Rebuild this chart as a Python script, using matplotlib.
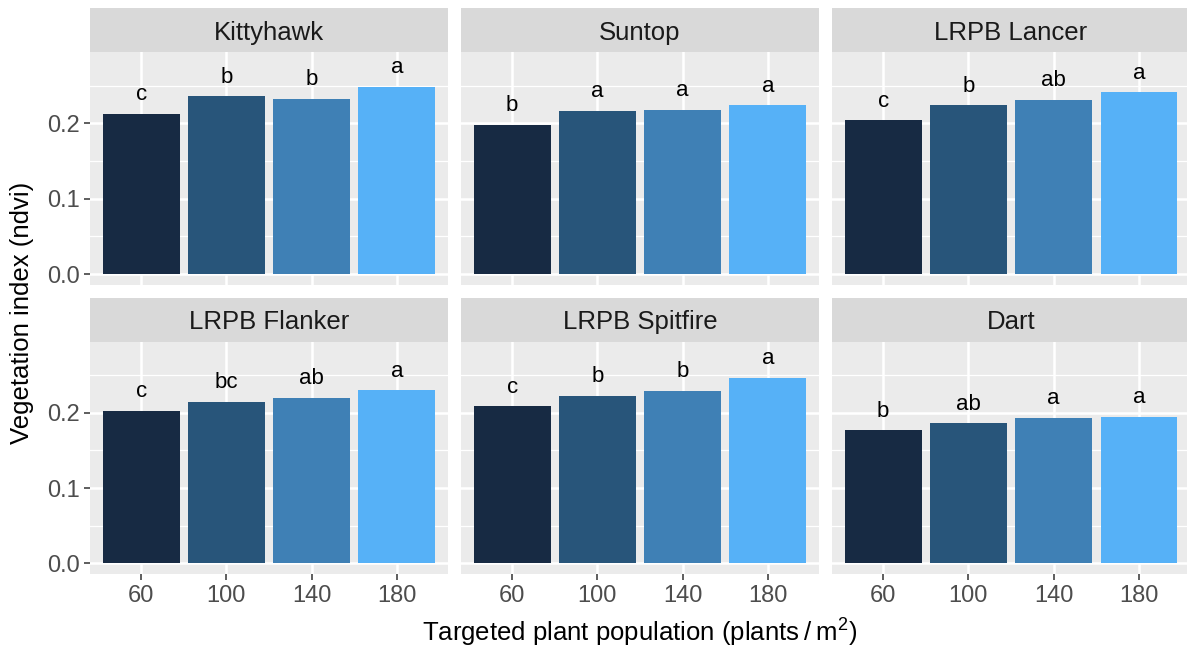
import matplotlib.pyplot as plt
import numpy as np

plt.rcParams['font.family'] = ['Liberation Sans', 'DejaVu Sans']
plt.rcParams['mathtext.fontset'] = 'custom'
plt.rcParams['mathtext.rm'] = 'Liberation Sans'
plt.rcParams['mathtext.it'] = 'Liberation Sans'

# data
cultivars = ["Kittyhawk", "Suntop", "LRPB Lancer",
             "LRPB Flanker", "LRPB Spitfire", "Dart"]
populations = ["60", "100", "140", "180"]

ndvi_kittyhawk = [0.2125, 0.236, 0.2325, 0.2487]
ndvi_suntop = [0.198, 0.2165, 0.2182, 0.2244]
ndvi_lancer = [0.2045, 0.2244, 0.2311, 0.2417]
ndvi_flanker = [0.2026, 0.2145, 0.2203, 0.2298]
ndvi_spitfire = [0.2088, 0.2225, 0.2295, 0.2468]
ndvi_dart = [0.177, 0.1862, 0.1938, 0.1947]

let_kittyhawk = ["c", "b", "b", "a"]
let_suntop = ["b", "a", "a", "a"]
let_lancer = ["c", "b", "ab", "a"]
let_flanker = ["c", "bc", "ab", "a"]
let_spitfire = ["c", "b", "b", "a"]
let_dart = ["b", "ab", "a", "a"]

all_ndvi = [ndvi_kittyhawk, ndvi_suntop, ndvi_lancer,
            ndvi_flanker, ndvi_spitfire, ndvi_dart]
all_letters = [let_kittyhawk, let_suntop, let_lancer,
               let_flanker, let_spitfire, let_dart]

bar_colors = ["#172a43", "#28557a", "#3f80b5", "#56b1f7"]

W, H = 1187, 651
fig = plt.figure(figsize=(W / 100, H / 100), dpi=100)

col_x = [90, 461, 832]
panel_w = 358
rows = [(8, 52.3, 285), (297.7, 341.7, 574.3)]  # strip top, panel top, panel bottom


def fx(px):
    return px / W


def fy(py):
    return 1 - py / H


x = np.arange(len(populations))
for i, name in enumerate(cultivars):
    r, c = divmod(i, 3)
    s_top, p_top, p_bot = rows[r]
    x0 = col_x[c]
    ax = fig.add_axes([fx(x0), fy(p_bot), panel_w / W, (p_bot - p_top) / H])
    ax.set_facecolor("#EBEBEB")
    ax.bar(x, all_ndvi[i], width=0.9, color=bar_colors, zorder=3)
    for xi, v, lab in zip(x, all_ndvi[i], all_letters[i]):
        ax.text(xi, v + 0.018, lab, ha="center", va="baseline",
                fontsize=16, color="black", zorder=4)
    ax.set_xlim(-0.6, 3.6)
    ax.set_ylim(-0.0145, 0.2945)
    ax.set_yticks([0.0, 0.1, 0.2])
    ax.set_yticks([0.05, 0.15, 0.25], minor=True)
    ax.set_xticks(x)
    ax.grid(which="major", color="white", linewidth=1.8, zorder=0)
    ax.grid(which="minor", axis="y", color="white", linewidth=0.9, zorder=0)
    ax.set_axisbelow(True)
    for sp in ax.spines.values():
        sp.set_visible(False)
    ax.tick_params(which="minor", length=0)
    ax.tick_params(which="major", length=4.5, width=1.1, color="#333333",
                   labelsize=17, labelcolor="#4D4D4D", pad=3)
    if c == 0:
        ax.set_yticklabels(["0.0", "0.1", "0.2"])
    else:
        ax.tick_params(axis="y", length=0, labelleft=False)
    if r == 1:
        ax.set_xticklabels(populations)
    else:
        ax.tick_params(axis="x", length=0, labelbottom=False)

    # facet strip
    sax = fig.add_axes([fx(x0), fy(p_top), panel_w / W, (p_top - s_top) / H])
    sax.set_facecolor("#D9D9D9")
    sax.set_xticks([])
    sax.set_yticks([])
    for sp in sax.spines.values():
        sp.set_visible(False)
    sax.text(0.5, 0.5, name, ha="center", va="center_baseline", fontsize=18.5,
             color="#1A1A1A", transform=sax.transAxes)

fig.text(fx(640), fy(642), "Targeted plant population (plants\u2009/\u2009m$^2$)",
         ha="center", va="baseline", fontsize=18.5)
fig.text(fx(22), fy(313), "Vegetation index (ndvi)", rotation=90,
         ha="center", va="center", fontsize=18.5)

plt.savefig("out.png", dpi=100)
